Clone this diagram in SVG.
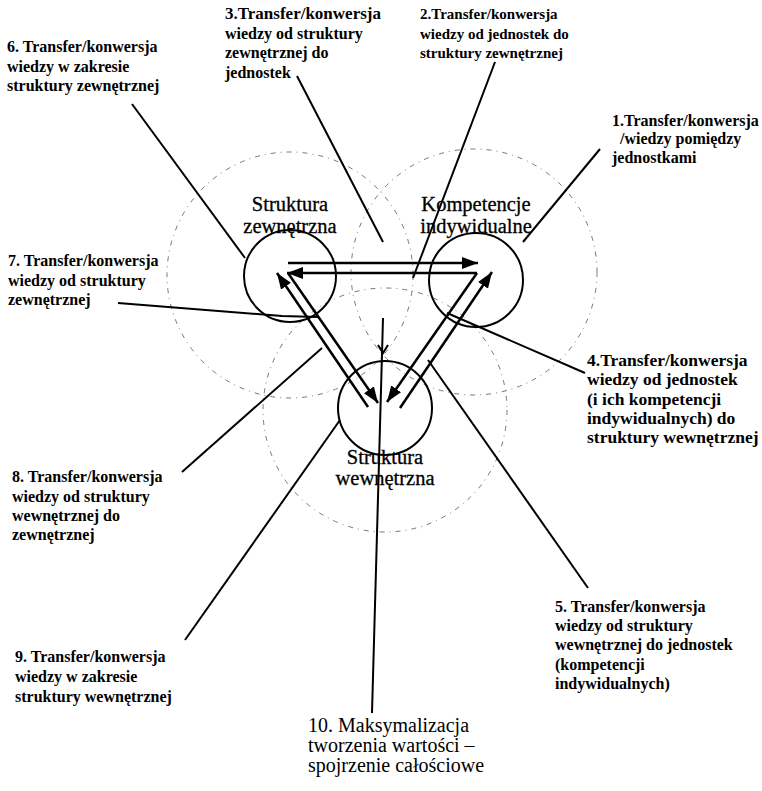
<svg xmlns="http://www.w3.org/2000/svg" width="762" height="791" viewBox="0 0 762 791">
<defs>
<marker id="ah" viewBox="0 0 16 12" refX="16" refY="6" markerWidth="16" markerHeight="12" markerUnits="userSpaceOnUse" orient="auto"><path d="M0,0 L16,6 L0,12 z" fill="#000"/></marker>
<style>
.lbl{font-family:"Liberation Serif","Times New Roman",serif;font-weight:bold;font-size:16px;fill:#000}
.node{font-family:"Liberation Serif","Times New Roman",serif;font-size:20.5px;fill:#000;text-anchor:middle;stroke:#000;stroke-width:0.3}
.big{font-family:"Liberation Serif","Times New Roman",serif;font-size:20px;fill:#000}
.circ{fill:none;stroke:#000;stroke-width:2}
.dot{fill:none;stroke:#777;stroke-width:1;stroke-dasharray:5 5 1 5}
.arr{stroke:#000;stroke-width:2.5;fill:none;marker-end:url(#ah)}
.lead{stroke:#000;stroke-width:2;fill:none}
</style>
</defs>
<rect width="762" height="791" fill="#fff"/>
<g id="scopes">
<circle class="dot" cx="290" cy="275" r="123"/>
<circle class="dot" cx="474" cy="272" r="123"/>
<circle class="dot" cx="385" cy="410" r="122"/>
</g>
<g id="node-zewnetrzna">
<circle class="circ" cx="290" cy="276" r="46"/>
<text class="node" x="290" y="211">Struktura</text>
<text class="node" x="290" y="233">zewnętrzna</text>
</g>
<g id="node-kompetencje">
<circle class="circ" cx="476" cy="280" r="47"/>
<text class="node" x="476" y="211">Kompetencje</text>
<text class="node" x="476" y="233">indywidualne</text>
</g>
<g id="node-wewnetrzna">
<circle class="circ" cx="385" cy="408" r="47"/>
<text class="node" x="385" y="464">Struktura</text>
<text class="node" x="385" y="485">wewnętrzna</text>
</g>
<g id="connectors">
<line class="arr" x1="288" y1="263" x2="478" y2="263"/>
<line class="arr" x1="477" y1="273" x2="287" y2="273"/>
<line class="arr" x1="368" y1="407" x2="277" y2="273"/>
<line class="arr" x1="288" y1="273" x2="378" y2="403"/>
<line class="arr" x1="477" y1="273" x2="387" y2="402"/>
<line class="arr" x1="400" y1="408" x2="492" y2="272"/>
<line class="lead" x1="600" y1="149" x2="523" y2="242"/>
<line class="lead" x1="495" y1="62" x2="413" y2="278"/>
<line class="lead" x1="297" y1="76" x2="383" y2="242"/>
<line class="lead" x1="132" y1="104" x2="245" y2="258"/>
<polyline class="lead" points="118,303 282,316 318,317"/>
<line class="lead" x1="182" y1="472" x2="322" y2="348"/>
<line class="lead" x1="185" y1="640" x2="340" y2="420"/>
<line class="lead" x1="383" y1="318" x2="372" y2="713"/>
<polyline class="lead" points="378,345 383,353 388,345" stroke-width="1.5"/>
<line class="lead" x1="447" y1="313" x2="585" y2="373"/>
<line class="lead" x1="428" y1="360" x2="588" y2="588"/>
</g>
<g id="label-1"><text class="lbl" x="612" y="126">1.Transfer/konwersja</text><text class="lbl" x="620" y="144">/wiedzy pomiędzy</text><text class="lbl" x="612" y="163">jednostkami</text></g>
<g id="label-2"><text class="lbl" x="420" y="19" style="font-size:15px">2.Transfer/konwersja</text><text class="lbl" x="420" y="39" style="font-size:15px">wiedzy od jednostek do</text><text class="lbl" x="420" y="58" style="font-size:15px">struktury zewnętrznej</text></g>
<g id="label-3"><text class="lbl" x="225" y="19" style="font-size:17px">3.Transfer/konwersja</text><text class="lbl" x="225" y="39">wiedzy od struktury</text><text class="lbl" x="225" y="58">zewnętrznej do</text><text class="lbl" x="225" y="78">jednostek</text></g>
<g id="label-4"><text class="lbl" x="587" y="366" style="font-size:17.5px">4.Transfer/konwersja</text><text class="lbl" x="587" y="385" style="font-size:17.5px">wiedzy od jednostek</text><text class="lbl" x="587" y="405" style="font-size:17.5px">(i ich kompetencji</text><text class="lbl" x="587" y="424" style="font-size:17.5px">indywidualnych) do</text><text class="lbl" x="587" y="443" style="font-size:17.5px">struktury wewnętrznej</text></g>
<g id="label-5"><text class="lbl" x="555" y="612">5. Transfer/konwersja</text><text class="lbl" x="555" y="631">wiedzy od struktury</text><text class="lbl" x="555" y="650">wewnętrznej do jednostek</text><text class="lbl" x="555" y="670">(kompetencji</text><text class="lbl" x="555" y="689">indywidualnych)</text></g>
<g id="label-6"><text class="lbl" x="7" y="52">6. Transfer/konwersja</text><text class="lbl" x="7" y="72">wiedzy w zakresie</text><text class="lbl" x="7" y="91">struktury zewnętrznej</text></g>
<g id="label-7"><text class="lbl" x="8" y="266">7. Transfer/konwersja</text><text class="lbl" x="8" y="286">wiedzy od struktury</text><text class="lbl" x="8" y="305">zewnętrznej</text></g>
<g id="label-8"><text class="lbl" x="12" y="482">8. Transfer/konwersja</text><text class="lbl" x="12" y="502">wiedzy od struktury</text><text class="lbl" x="12" y="521">wewnętrznej do</text><text class="lbl" x="12" y="540">zewnętrznej</text></g>
<g id="label-9"><text class="lbl" x="15" y="662">9. Transfer/konwersja</text><text class="lbl" x="15" y="682">wiedzy w zakresie</text><text class="lbl" x="15" y="702">struktury wewnętrznej</text></g>
<g id="label-10"><text class="big" x="308" y="732">10. Maksymalizacja</text><text class="big" x="308" y="752">tworzenia wartości –</text><text class="big" x="308" y="772">spojrzenie całościowe</text></g>
</svg>
